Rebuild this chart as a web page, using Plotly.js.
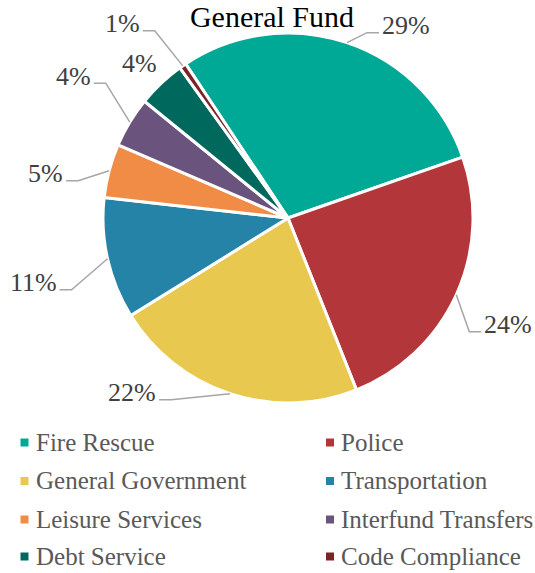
<!DOCTYPE html>
<html><head><meta charset="utf-8">
<script src="https://cdn.plot.ly/plotly-3.0.1.min.js"></script>
<style>html,body{margin:0;padding:0;background:#fff;overflow:hidden}</style>
</head><body><div id="chart" style="width:535px;height:573px"></div>
<script>
// ---- data ----
const categories = ['Fire Rescue', 'Police', 'General Government', 'Transportation',
                    'Leisure Services', 'Interfund Transfers', 'Debt Service', 'Code Compliance'];
const shares = [29.0, 24.3, 22.2, 10.6, 4.7, 4.4, 4.2, 0.6];
const chartTitle = 'General Fund';

// ---- styling / layout ----
const colors = ['#00A896', '#B3373A', '#E8C84E', '#2683A8', '#F08C45', '#6A537D', '#00685C', '#7B2426'];
const W = 535, H = 573, CX = 288, CY = 218, R = 185, ROT = -33.6;
const FONT = 'Liberation Serif';
// leader elbow offsets from slice edge midpoint (px) and label side (+1 right, -1 left)
const elbow = [[20, -10], [13, 37], [-59, 6], [-36, 31], [-31, 10], [-24, -39], [11, -13], [-28, -35]];
const labelSide = [1, 1, -1, -1, -1, -1, -1, -1];
const showLeader = [true, true, true, true, true, true, false, true];

const px = x => x / W;
const py = y => 1 - y / H;

const total = shares.reduce((a, b) => a + b, 0);
const annotations = [];
const shapes = [];
let cum = 0;
shares.forEach((v, i) => {
  const a0 = ROT + cum / total * 360;
  cum += v;
  const a1 = ROT + cum / total * 360;
  const mid = (a0 + a1) / 2 * Math.PI / 180;
  const ex = CX + R * Math.sin(mid), ey = CY - R * Math.cos(mid);
  const bx = ex + elbow[i][0], by = ey + elbow[i][1];
  const right = labelSide[i] > 0;
  const qx = right ? bx + 12 : bx - 12;
  if (showLeader[i]) {
    shapes.push({
      type: 'path', xref: 'paper', yref: 'paper',
      path: `M ${px(ex)} ${py(ey)} L ${px(bx)} ${py(by)} L ${px(qx)} ${py(by)}`,
      line: {color: '#A6A6A6', width: 1.5}
    });
  }
  annotations.push({
    xref: 'paper', yref: 'paper', showarrow: false,
    x: px(right ? qx + 1 : qx - 1), y: py(by - 7),
    xanchor: right ? 'left' : 'right', yanchor: 'middle',
    text: Math.round(v / total * 100) + '%',
    font: {family: FONT, size: 26, color: '#404040'}
  });
});

// legend (two columns)
const legCols = [24.5, 330], legRows = [442, 480.5, 519, 556];
categories.forEach((c, i) => {
  const cx = legCols[i % 2], cy = legRows[Math.floor(i / 2)];
  shapes.push({
    type: 'rect', xref: 'paper', yref: 'paper',
    x0: px(cx - 4), x1: px(cx + 4), y0: py(cy - 3.5), y1: py(cy + 4.5),
    fillcolor: colors[i], line: {width: 0}
  });
  annotations.push({
    xref: 'paper', yref: 'paper', showarrow: false,
    x: px(cx + 9), y: py(cy), xanchor: 'left', yanchor: 'middle',
    text: c, font: {family: FONT, size: 25, color: '#595959'}
  });
});

const trace = {
  type: 'pie', labels: categories, values: shares,
  sort: false, direction: 'clockwise', rotation: ROT,
  marker: {colors: colors, line: {color: '#FFFFFF', width: 3}},
  textinfo: 'none', showlegend: false, hoverinfo: 'label+percent',
  domain: {x: [px(CX - R), px(CX + R)], y: [py(CY + R), py(CY - R)]}
};

const layout = {
  width: W, height: H,
  margin: {l: 0, r: 0, t: 0, b: 0},
  paper_bgcolor: '#FFFFFF', plot_bgcolor: '#FFFFFF',
  showlegend: false,
  title: {
    text: chartTitle, font: {family: FONT, size: 30, color: '#000000'},
    xref: 'paper', yref: 'paper', x: px(272), xanchor: 'center', y: py(16.5), yanchor: 'middle'
  },
  annotations: annotations,
  shapes: shapes
};

Plotly.newPlot('chart', [trace], layout, {displayModeBar: false, staticPlot: true});
</script>
</body></html>
